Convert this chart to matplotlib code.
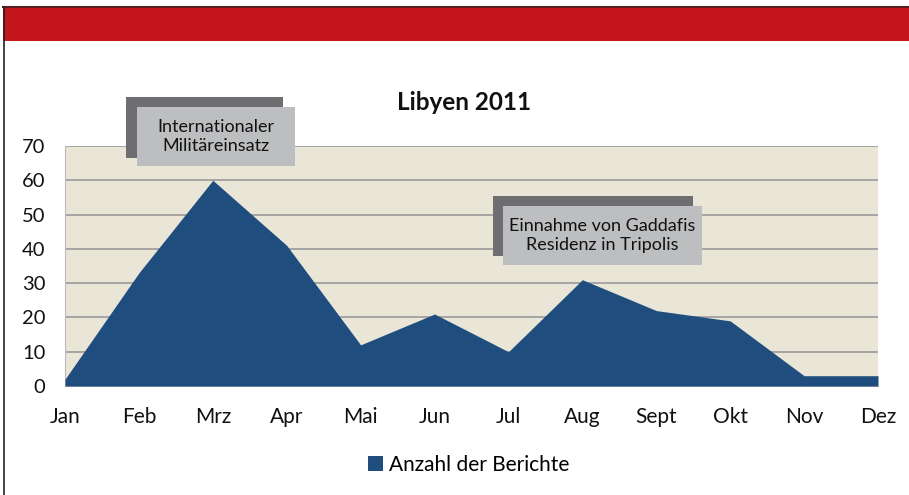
import matplotlib
matplotlib.use("Agg")
import matplotlib.pyplot as plt
from matplotlib.patches import Rectangle
from matplotlib.lines import Line2D

plt.rcParams['font.family'] = ['Lato', 'DejaVu Sans']

months = ["Jan", "Feb", "Mrz", "Apr", "Mai", "Jun", "Jul", "Aug", "Sept", "Okt", "Nov", "Dez"]
reports = [2, 33, 60, 41, 12, 21, 10, 31, 22, 19, 3, 3]
yticks = [0, 10, 20, 30, 40, 50, 60, 70]
title = "Libyen 2011"
series_name = "Anzahl der Berichte"
notes = ["Internationaler\nMilitäreinsatz", "Einnahme von Gaddafis\nResidenz in Tripolis"]

W, H = 909, 495
fig = plt.figure(figsize=(W / 100, H / 100), dpi=100)
fig.patch.set_facecolor("white")

def fx(px):
    return px / W

def fy(py):
    return 1 - py / H

# header band and frame
fig.add_artist(Rectangle((fx(3), fy(41)), fx(906), 34 / H, transform=fig.transFigure,
                         facecolor="#C4161C", edgecolor="none"))
fig.add_artist(Line2D([fx(3), 1], [fy(6.5), fy(6.5)], transform=fig.transFigure,
                      color="#5a2020", lw=1.5))
fig.add_artist(Line2D([fx(3.5), fx(3.5)], [fy(7), 0], transform=fig.transFigure,
                      color="#222222", lw=1.2))

ax = fig.add_axes([fx(65), fy(386), fx(878 - 65), (386 - 146) / H])
ax.set_facecolor("#E9E6D8")
x = list(range(len(months)))
ax.fill_between(x, reports, 0, color="#1F4E7E", lw=0, label=series_name, zorder=3)
ax.set_xlim(0, len(months) - 1)
ax.set_ylim(0, 70)
ax.set_yticks(yticks)
ax.set_xticks(x)
ax.set_xticklabels(months)
ax.tick_params(axis="both", length=0, colors="#111111")
ax.tick_params(axis="x", pad=15, labelsize=15)
ax.tick_params(axis="y", pad=14, labelsize=14.5)
ax.grid(axis="y", color="#9A9A9A", lw=1.2, zorder=1)
for s in ax.spines.values():
    s.set_visible(False)
ax.spines["left"].set_visible(True)
ax.spines["left"].set_color("#BBBBBB")
ax.spines["bottom"].set_visible(True)
ax.spines["bottom"].set_color("#BBBBBB")

fig.text(fx(464), fy(103), title, ha="center", va="center", fontsize=17.5, fontweight="bold",
         color="#111111")

# annotation boxes
boxes = [((126, 97, 283, 158), (137, 107, 295, 166)),
         ((493, 196, 693, 256), (503, 206, 702, 265))]
for (sh, bx), txt in zip(boxes, notes):
    x0, y0, x1, y1 = sh
    fig.add_artist(Rectangle((fx(x0), fy(y1)), fx(x1 - x0), (y1 - y0) / H,
                             transform=fig.transFigure, facecolor="#6E6E70", edgecolor="none", zorder=5))
    x0, y0, x1, y1 = bx
    fig.add_artist(Rectangle((fx(x0), fy(y1)), fx(x1 - x0), (y1 - y0) / H,
                             transform=fig.transFigure, facecolor="#BDBEC0", edgecolor="none", zorder=6))
    fig.text(fx((x0 + x1) / 2), fy((y0 + y1) / 2), txt, ha="center", va="center",
             fontsize=13, color="#111111", linespacing=1.3, zorder=7)

leg = fig.legend(loc="center", bbox_to_anchor=(fx(469), fy(465)), frameon=False,
                 fontsize=15, handlelength=0.7, handleheight=0.7, handletextpad=0.3)

fig.savefig("out.png", dpi=100, facecolor="white")
